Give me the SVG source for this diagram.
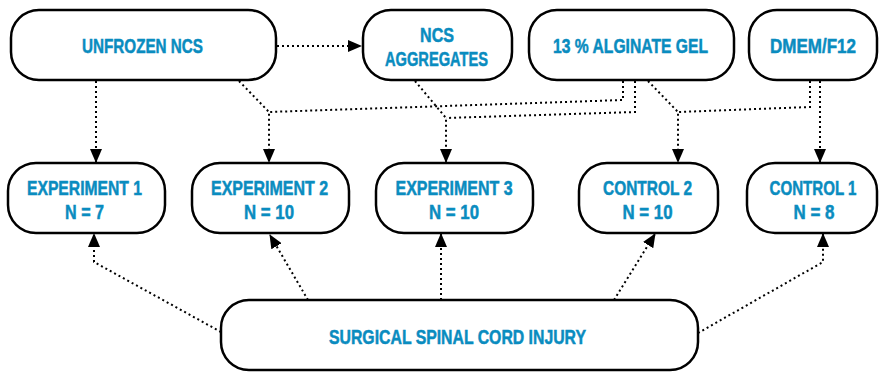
<svg xmlns="http://www.w3.org/2000/svg" width="879" height="372" viewBox="0 0 879 372">
<defs>
<style>
.box{fill:#fff;stroke:#000;stroke-width:2.5}
.t{font-family:"Liberation Sans",Arial,sans-serif;font-weight:bold;font-size:20px;fill:#0a8cbf;stroke:#0a8cbf;stroke-width:0.5;text-anchor:middle}
.c{fill:none;stroke:#000;stroke-width:2;stroke-dasharray:2 3}
</style>
<marker id="ah" markerUnits="userSpaceOnUse" markerWidth="14" markerHeight="12" refX="13" refY="6" orient="auto">
<path d="M0,0 L14,6 L0,12 Z" fill="#000"/>
</marker>
</defs>
<g id="connectors">
<path class="c" d="M277,46 H361" marker-end="url(#ah)"/>
<path class="c" d="M96,81 V162" marker-end="url(#ah)"/>
<path class="c" d="M239,81 L269,112 V162" marker-end="url(#ah)"/>
<path class="c" d="M623,81 V100 L269,112"/>
<path class="c" d="M415,81 L446,118 V162" marker-end="url(#ah)"/>
<path class="c" d="M635,81 V112 L446,118"/>
<path class="c" d="M648,81 L678,112 V162" marker-end="url(#ah)"/>
<path class="c" d="M810,81 V107 L678,112"/>
<path class="c" d="M820,81 V162" marker-end="url(#ah)"/>
<path class="c" d="M221,332 L94,262 V234" marker-end="url(#ah)"/>
<path class="c" d="M308,300 L270,235" marker-end="url(#ah)"/>
<path class="c" d="M441,300 V234" marker-end="url(#ah)"/>
<path class="c" d="M614,300 L655,234" marker-end="url(#ah)"/>
<path class="c" d="M698,333 L823,262 V234" marker-end="url(#ah)"/>
</g>
<g id="unfrozen"><rect class="box" x="11" y="10" width="265" height="70" rx="28"/><text class="t" x="142.5" y="53" textLength="121" lengthAdjust="spacingAndGlyphs">UNFROZEN NCS</text></g>
<g id="aggregates"><rect class="box" x="363" y="10" width="149" height="70" rx="28"/><text class="t" x="437" y="42" textLength="34" lengthAdjust="spacingAndGlyphs">NCS</text><text class="t" x="436.5" y="66" textLength="103" lengthAdjust="spacingAndGlyphs">AGGREGATES</text></g>
<g id="alginate"><rect class="box" x="529" y="10" width="205" height="70" rx="28"/><text class="t" x="630.5" y="53" textLength="155" lengthAdjust="spacingAndGlyphs">13 % ALGINATE GEL</text></g>
<g id="dmem"><rect class="box" x="749" y="10" width="128" height="70" rx="28"/><text class="t" x="813" y="53" textLength="86" lengthAdjust="spacingAndGlyphs">DMEM/F12</text></g>
<g id="exp1"><rect class="box" x="8" y="163" width="157" height="70" rx="28"/><text class="t" x="84.5" y="195" textLength="115" lengthAdjust="spacingAndGlyphs">EXPERIMENT 1</text><text class="t" x="84.5" y="219" textLength="39" lengthAdjust="spacingAndGlyphs">N = 7</text></g>
<g id="exp2"><rect class="box" x="192" y="163" width="157" height="70" rx="28"/><text class="t" x="269.5" y="195" textLength="117" lengthAdjust="spacingAndGlyphs">EXPERIMENT 2</text><text class="t" x="269" y="219" textLength="50" lengthAdjust="spacingAndGlyphs">N = 10</text></g>
<g id="exp3"><rect class="box" x="376" y="163" width="157" height="70" rx="28"/><text class="t" x="454" y="195" textLength="117" lengthAdjust="spacingAndGlyphs">EXPERIMENT 3</text><text class="t" x="454" y="219" textLength="50" lengthAdjust="spacingAndGlyphs">N = 10</text></g>
<g id="control2"><rect class="box" x="579" y="163" width="139" height="70" rx="28"/><text class="t" x="647.5" y="195" textLength="89" lengthAdjust="spacingAndGlyphs">CONTROL 2</text><text class="t" x="647.5" y="219" textLength="50" lengthAdjust="spacingAndGlyphs">N = 10</text></g>
<g id="control1"><rect class="box" x="747" y="163" width="130" height="70" rx="28"/><text class="t" x="813" y="195" textLength="87" lengthAdjust="spacingAndGlyphs">CONTROL 1</text><text class="t" x="814" y="219" textLength="41" lengthAdjust="spacingAndGlyphs">N = 8</text></g>
<g id="injury"><rect class="box" x="221" y="300" width="477" height="70" rx="28"/><text class="t" x="457.5" y="344" textLength="257" lengthAdjust="spacingAndGlyphs">SURGICAL SPINAL CORD INJURY</text></g>
</svg>
